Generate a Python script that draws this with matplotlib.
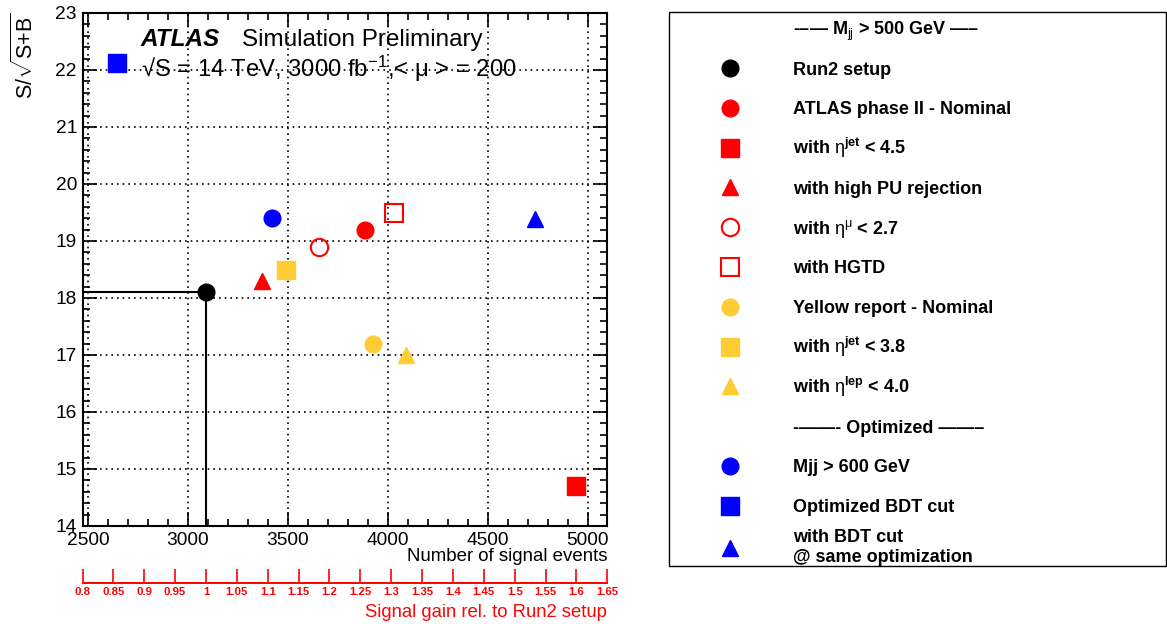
import numpy as np
import matplotlib
matplotlib.use('Agg')
import matplotlib.pyplot as plt
from matplotlib.lines import Line2D
from matplotlib.legend_handler import HandlerLine2D
from matplotlib.ticker import MultipleLocator, FixedLocator

plt.rcParams['font.family'] = ['Liberation Sans', 'DejaVu Sans']
plt.rcParams['mathtext.fontset'] = 'custom'
plt.rcParams['mathtext.rm'] = 'Liberation Sans'
plt.rcParams['mathtext.it'] = 'Liberation Sans:italic'
plt.rcParams['mathtext.bf'] = 'Liberation Sans:bold'
plt.rcParams['mathtext.sf'] = 'Liberation Sans'

# ---------------- data ----------------
run2_signal = 3090          # reference number of signal events (Run2 setup)
run2_signif = 18.1

setup_labels = [
    'Run2 setup',
    'ATLAS phase II - Nominal',
    r'with $\mathrm{\eta}^{\mathbf{jet}}$ < 4.5',
    'with high PU rejection',
    r'with $\mathrm{\eta}^{\mathrm{\mu}}$ < 2.7',
    'with HGTD',
    'Yellow report - Nominal',
    r'with $\mathrm{\eta}^{\mathbf{jet}}$ < 3.8',
    r'with $\mathrm{\eta}^{\mathbf{lep}}$ < 4.0',
    'Mjj > 600 GeV',
    'Optimized BDT cut',
    'with BDT cut\n@ same optimization',
]
n_signal = [3090, 3887, 4943, 3370, 3658, 4033, 3927, 3488, 4090, 3420, 2645, 4737]
significance = [18.1, 19.2, 14.7, 18.3, 18.9, 19.5, 17.2, 18.5, 17.0, 19.4, 22.12, 19.39]

header_1 = r'-–— M$_{\mathrm{jj}}$ > 500 GeV —–'
header_2 = '-——- Optimized ——–'

gain_ticks = [0.8, 0.85, 0.9, 0.95, 1.0, 1.05, 1.1, 1.15, 1.2, 1.25, 1.3,
              1.35, 1.4, 1.45, 1.5, 1.55, 1.6, 1.65]
gain_labels = ['0.8', '0.85', '0.9', '0.95', '1', '1.05', '1.1', '1.15', '1.2',
               '1.25', '1.3', '1.35', '1.4', '1.45', '1.5', '1.55', '1.6', '1.65']

# ---------------- styles ----------------
YEL = '#ffcc33'
marker_styles = ['o', 'o', 's', '^', 'o', 's', 'o', 's', '^', 'o', 's', '^']
marker_colors = ['black', 'red', 'red', 'red', 'red', 'red', YEL, YEL, YEL, 'blue', 'blue', 'blue']
marker_open = [False, False, False, False, True, True, False, False, False, False, False, False]

W, H = 1167, 624
fig = plt.figure(figsize=(W / 100, H / 100), dpi=100)
ax_l, ax_r, ax_t, ax_b = 82.5, 607.3, 13.0, 526.0
ax = fig.add_axes([ax_l / W, 1 - ax_b / H, (ax_r - ax_l) / W, (ax_b - ax_t) / H])

xmin, xmax = gain_ticks[0] * run2_signal, gain_ticks[-1] * run2_signal
ax.set_xlim(xmin, xmax)
ax.set_ylim(14, 23)

# grid
ax.grid(True, which='major', color='black', linestyle=(0, (1, 2.4)), linewidth=1.2)
ax.set_axisbelow(True)

# reference lines from Run2 point
ax.plot([xmin, run2_signal], [run2_signif, run2_signif], color='black', lw=1.5, zorder=3)
ax.plot([run2_signal, run2_signal], [14, run2_signif], color='black', lw=1.5, zorder=3)

handles = []
for x, y, m, c, op, lab in zip(n_signal, significance, marker_styles, marker_colors,
                               marker_open, setup_labels):
    if op:
        ms, mew, mfc = 12.5, 1.5, 'none'
    else:
        ms = 12.5 if m == 's' else 12
        mew, mfc = 1.0, c
    ln, = ax.plot([x], [y], linestyle='none', marker=m, ms=ms, mew=mew,
                  mfc=mfc, mec=c, zorder=5, clip_on=False, label=lab)
    handles.append(ln)

# ticks
ax.xaxis.set_major_locator(MultipleLocator(500))
ax.xaxis.set_minor_locator(MultipleLocator(100))
ax.yaxis.set_major_locator(MultipleLocator(1))
ax.yaxis.set_minor_locator(MultipleLocator(0.2))
ax.tick_params(which='both', direction='in', top=True, right=True, width=1.2)
ax.tick_params(which='major', length=10, labelsize=13.8)
ax.tick_params(which='minor', length=5)
ax.tick_params(axis='x', which='major', pad=4.5)
ax.tick_params(axis='y', which='major', pad=4)
for sp in ax.spines.values():
    sp.set_linewidth(1.5)

ax.text(-0.1096, 1.0, r'S/$\sqrt{\mathrm{S{+}B}}$', transform=ax.transAxes,
        rotation=90, ha='center', va='top', fontsize=15.5)
ax.text(1.0, (ax_b - 561) / (ax_b - ax_t), 'Number of signal events',
        transform=ax.transAxes, ha='right', va='baseline', fontsize=13.4)

# annotation text
ax.text((141 - ax_l) / (ax_r - ax_l), (ax_b - 45.7) / (ax_b - ax_t), 'ATLAS',
        transform=ax.transAxes, fontsize=17.5, fontweight='bold', fontstyle='italic',
        va='baseline', ha='left')
ax.text((242 - ax_l) / (ax_r - ax_l), (ax_b - 45.7) / (ax_b - ax_t), 'Simulation Preliminary',
        transform=ax.transAxes, fontsize=17.5, va='baseline', ha='left')
ax.text(0.112, (ax_b - 76.7) / (ax_b - ax_t), '√S = 14 TeV, 3000 fb$^{-1}$,< μ > = 200',
        transform=ax.transAxes, fontsize=17.2, va='baseline', ha='left')

# secondary (red) axis: signal gain relative to Run2
sec = ax.secondary_xaxis((ax_b - 582.7) / (ax_b - ax_t),
                         functions=(lambda x: x / run2_signal, lambda g: g * run2_signal))
sec.set_xticks(gain_ticks, labels=gain_labels, fontweight='bold', fontsize=8.2, color='red')
sec.xaxis.set_minor_locator(FixedLocator([]))
sec.tick_params(axis='x', which='major', direction='in', length=9.9, width=1.2,
                color='red', labelcolor='red', pad=3)
sec.spines['bottom'].set_color('red')
sec.spines['bottom'].set_linewidth(1.4)
ax.text(1.0, (ax_b - 617.3) / (ax_b - ax_t), 'Signal gain rel. to Run2 setup',
        transform=ax.transAxes, ha='right', va='baseline', fontsize=13.3, color='red')


# legend: markers vertically centred on their text
class CenteredLine2D(HandlerLine2D):
    def create_artists(self, legend, orig_handle, xdescent, ydescent, width, height,
                       fontsize, trans):
        arts = super().create_artists(legend, orig_handle, xdescent, ydescent, width,
                                      height, fontsize, trans)
        for a in arts:
            a.set_ydata(np.asarray(a.get_ydata(), dtype=float) - 0.265 * fontsize)
        return arts


blank1 = Line2D([], [], linestyle='none')
blank2 = Line2D([], [], linestyle='none')
leg_handles = [blank1] + handles[:9] + [blank2] + handles[9:]
leg_labels = [header_1] + setup_labels[:9] + [header_2] + setup_labels[9:]
leg = fig.legend(leg_handles, leg_labels, loc='upper left',
                 bbox_to_anchor=(669 / W, 1 - 564.3 / H, 497 / W, (564.3 - 12.3) / H),
                 mode='expand', borderaxespad=0, borderpad=0, labelspacing=0.32,
                 handlelength=6.79, handleheight=2.52, handletextpad=0.08,
                 frameon=True, fancybox=False, edgecolor='black', framealpha=1,
                 prop={'weight': 'bold', 'size': 13}, numpoints=1,
                 handler_map={Line2D: CenteredLine2D()})
leg.get_frame().set_linewidth(1.0)

fig.savefig('out.png', dpi=100)
